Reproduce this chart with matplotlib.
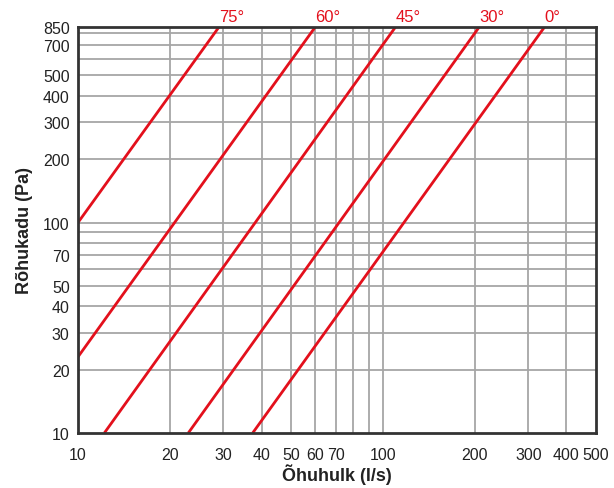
import matplotlib
matplotlib.use("Agg")
import matplotlib.pyplot as plt
from matplotlib.ticker import FixedLocator, NullLocator, FixedFormatter

plt.rcParams['font.family'] = ['Liberation Sans', 'DejaVu Sans']

# Data: endpoints of each damper-angle curve (flow l/s, pressure Pa)
angles = ["75°", "60°", "45°", "30°", "0°"]
flow_75 = [10, 29]
pres_75 = [100, 850]
flow_60 = [10, 60]
pres_60 = [23, 850]
flow_45 = [12.2, 110]
pres_45 = [10, 850]
flow_30 = [23, 207]
pres_30 = [10, 850]
flow_0 = [37.4, 339]
pres_0 = [10, 850]

flows = [flow_75, flow_60, flow_45, flow_30, flow_0]
pressures = [pres_75, pres_60, pres_45, pres_30, pres_0]

x_ticks = [10, 20, 30, 40, 50, 60, 70, 100, 200, 300, 400, 500]
x_grid = [20, 30, 40, 50, 60, 70, 80, 90, 100, 200, 300, 400]
y_ticks = [10, 20, 30, 40, 50, 70, 100, 200, 300, 400, 500, 700, 850]
y_grid = [20, 30, 40, 50, 60, 70, 80, 90, 100, 200, 300, 400, 500, 600, 700, 800]

red = "#e3101c"

fig = plt.figure(figsize=(6.14, 4.89), dpi=100)
ax = fig.add_axes([78/614, 1 - 434/489, (596-78)/614, (434-28)/489])
ax.set_xscale('log')
ax.set_yscale('log')
ax.set_xlim(10, 500)
ax.set_ylim(10, 850)

for g in x_grid:
    ax.axvline(g, color="#a6a6a6", lw=1.3, zorder=1)
for g in y_grid:
    ax.axhline(g, color="#a6a6a6", lw=1.3, zorder=1)

for a, f, p in zip(angles, flows, pressures):
    ax.plot(f, p, color=red, lw=2.0, zorder=3, solid_capstyle='butt')
    ax.text(f[1], 880, a, color=red, fontsize=12, ha='left', va='bottom')

ax.xaxis.set_major_locator(FixedLocator(x_ticks))
ax.xaxis.set_major_formatter(FixedFormatter([str(v) for v in x_ticks]))
ax.xaxis.set_minor_locator(NullLocator())
ax.yaxis.set_major_locator(FixedLocator(y_ticks))
ax.yaxis.set_major_formatter(FixedFormatter([str(v) for v in y_ticks]))
ax.yaxis.set_minor_locator(NullLocator())
ax.tick_params(axis='x', length=0, labelsize=11.5, colors="#222222", pad=10)
ax.tick_params(axis='y', length=0, labelsize=11.5, colors="#222222", pad=6)

for s in ax.spines.values():
    s.set_color("#333333")
    s.set_linewidth(2)
    s.set_zorder(5)

ax.set_xlabel("Õhuhulk (l/s)", fontsize=13, fontweight='bold', color="#222222", labelpad=1)
ax.set_ylabel("Rõhukadu (Pa)", fontsize=13, fontweight='bold', color="#222222", labelpad=7)

fig.savefig("out.png", dpi=100)
